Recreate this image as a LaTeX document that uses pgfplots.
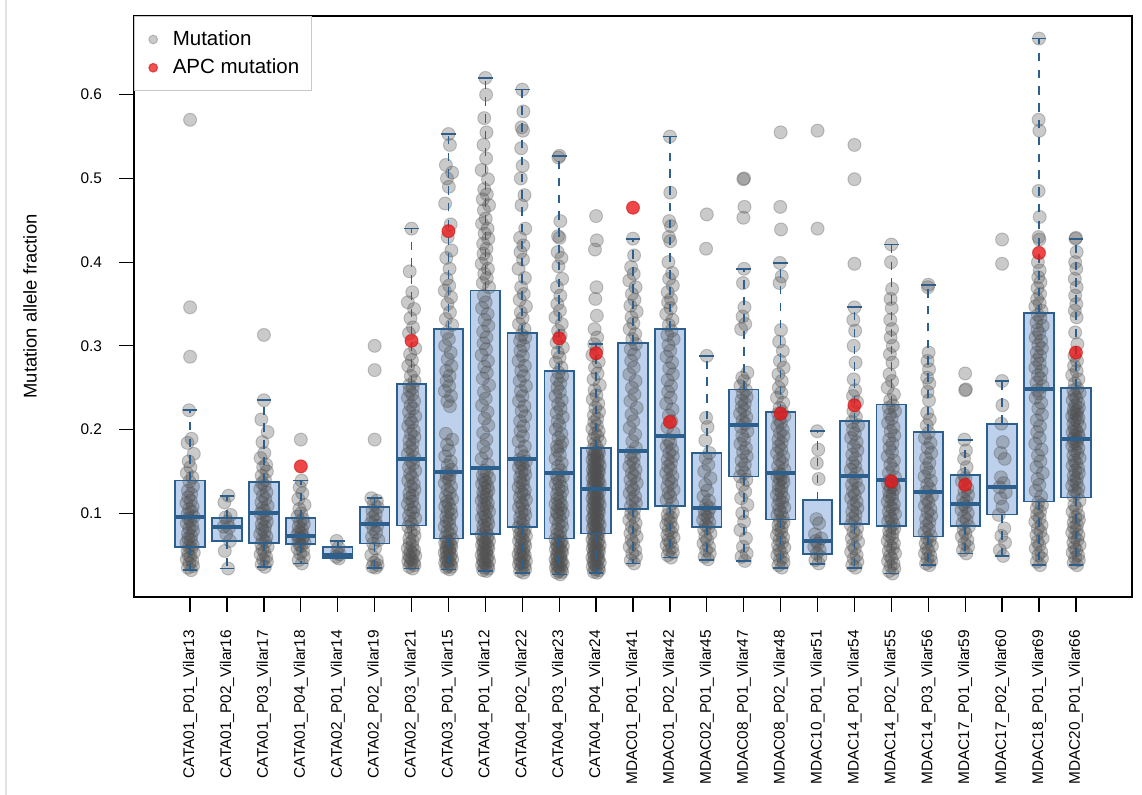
\documentclass[border=0pt]{standalone}
\usepackage{pgfplots}
\pgfplotsset{compat=1.18}
\usepgfplotslibrary{statistics}
\usepackage{fontspec}
\setmainfont{Liberation Sans}

\definecolor{boxfill}{RGB}{189,209,236}
\definecolor{boxedge}{RGB}{45,95,140}
\definecolor{ptgray}{RGB}{80,80,80}
\definecolor{apcred}{RGB}{235,25,25}
\definecolor{legframe}{RGB}{200,200,200}

% whiskers: dashed stem, solid staple
\pgfplotsset{
  boxplot/draw/lower whisker/.code={%
    \draw[/pgfplots/boxplot/every whisker/.try, dash pattern=on 4.2pt off 4.2pt]
      (boxplot box cs:\pgfplotsboxplotvalue{lower quartile},0.5)
      -- (boxplot box cs:\pgfplotsboxplotvalue{lower whisker},0.5);
    \draw[/pgfplots/boxplot/every whisker/.try]
      (boxplot whisker cs:\pgfplotsboxplotvalue{lower whisker},0)
      -- (boxplot whisker cs:\pgfplotsboxplotvalue{lower whisker},1);
  },
  boxplot/draw/upper whisker/.code={%
    \draw[/pgfplots/boxplot/every whisker/.try, dash pattern=on 4.2pt off 4.2pt]
      (boxplot box cs:\pgfplotsboxplotvalue{upper quartile},0.5)
      -- (boxplot box cs:\pgfplotsboxplotvalue{upper whisker},0.5);
    \draw[/pgfplots/boxplot/every whisker/.try]
      (boxplot whisker cs:\pgfplotsboxplotvalue{upper whisker},0)
      -- (boxplot whisker cs:\pgfplotsboxplotvalue{upper whisker},1);
  },
  boxbase/.style={draw=boxedge, color=boxedge, line width=0.85pt, solid,
    boxplot/draw direction=y,
    boxplot/box extend=0.8, boxplot/whisker extend=0.4,
    boxplot/every median/.style={line width=2pt}},
  boxfillpass/.style={boxbase, boxplot/every box/.style={fill=boxfill}},
  boxlinepass/.style={boxbase},
}

% one box: style, position, lower whisker, Q1, median, Q3, upper whisker
\newcommand\bx[7]{%
  \addplot[#1, forget plot, boxplot prepared={draw position=#2,
    lower whisker=#3, lower quartile=#4, median=#5,
    upper quartile=#6, upper whisker=#7}] coordinates {};}

\newcommand\allboxes[1]{%
  \bx{#1}{0}{0.032}{0.060}{0.096}{0.139}{0.223}
  \bx{#1}{1}{0.034}{0.067}{0.084}{0.094}{0.121}
  \bx{#1}{2}{0.036}{0.0645}{0.100}{0.137}{0.235}
  \bx{#1}{3}{0.040}{0.063}{0.0725}{0.094}{0.139}
  \bx{#1}{4}{0.046}{0.0465}{0.050}{0.0595}{0.067}
  \bx{#1}{5}{0.0347}{0.064}{0.0876}{0.1075}{0.118}
  \bx{#1}{6}{0.034}{0.0855}{0.165}{0.254}{0.440}
  \bx{#1}{7}{0.033}{0.070}{0.149}{0.320}{0.553}
  \bx{#1}{8}{0.031}{0.075}{0.154}{0.366}{0.620}
  \bx{#1}{9}{0.029}{0.084}{0.165}{0.315}{0.606}
  \bx{#1}{10}{0.027}{0.070}{0.148}{0.270}{0.527}
  \bx{#1}{11}{0.029}{0.076}{0.129}{0.178}{0.302}
  \bx{#1}{12}{0.040}{0.1054}{0.174}{0.3035}{0.4275}
  \bx{#1}{13}{0.047}{0.109}{0.192}{0.320}{0.550}
  \bx{#1}{14}{0.0445}{0.084}{0.106}{0.172}{0.288}
  \bx{#1}{15}{0.043}{0.144}{0.2055}{0.248}{0.3915}
  \bx{#1}{16}{0.035}{0.0926}{0.1484}{0.221}{0.399}
  \bx{#1}{17}{0.039}{0.0516}{0.0674}{0.1158}{0.198}
  \bx{#1}{18}{0.035}{0.087}{0.145}{0.210}{0.346}
  \bx{#1}{19}{0.028}{0.0845}{0.1396}{0.230}{0.421}
  \bx{#1}{20}{0.0378}{0.0724}{0.125}{0.197}{0.373}
  \bx{#1}{21}{0.052}{0.0845}{0.111}{0.1457}{0.1876}
  \bx{#1}{22}{0.049}{0.0987}{0.131}{0.207}{0.258}
  \bx{#1}{23}{0.038}{0.114}{0.248}{0.339}{0.667}
  \bx{#1}{24}{0.038}{0.119}{0.189}{0.250}{0.428}
}

\begin{document}
\begin{tikzpicture}
\path[use as bounding box] (-67pt,-99pt) rectangle (504pt,298.5pt);
\begin{axis}[
  at={(0,0)}, anchor=south west,
  scale only axis, width=499pt, height=290.5pt,
  xmin=-1.52, xmax=25.52, ymin=0, ymax=0.694,
  clip marker paths=true,
  axis line style={line width=0.7pt},
  tick align=outside, major tick length=7.5pt,
  tick style={black, line width=0.6pt},
  xtick pos=left, ytick pos=left,
  xtick={0,...,24},
  ytick={0.1,0.2,0.3,0.4,0.5,0.6},
  /pgf/number format/assume math mode=true,
  yticklabel style={/pgf/number format/.cd, fixed, fixed zerofill, precision=1},
  tick label style={font=\fontsize{7.7}{9}\selectfont},
  xticklabel style={rotate=90, anchor=east},
  xticklabel shift=5.5pt,
  yticklabel shift=5pt,
  xticklabels={CATA01\_P01\_Vilar13, CATA01\_P02\_Vilar16, CATA01\_P03\_Vilar17,
    CATA01\_P04\_Vilar18, CATA02\_P01\_Vilar14, CATA02\_P02\_Vilar19,
    CATA02\_P03\_Vilar21, CATA03\_P01\_Vilar15, CATA04\_P01\_Vilar12,
    CATA04\_P02\_Vilar22, CATA04\_P03\_Vilar23, CATA04\_P04\_Vilar24,
    MDAC01\_P01\_Vilar41, MDAC01\_P02\_Vilar42, MDAC02\_P01\_Vilar45,
    MDAC08\_P01\_Vilar47, MDAC08\_P02\_Vilar48, MDAC10\_P01\_Vilar51,
    MDAC14\_P01\_Vilar54, MDAC14\_P02\_Vilar55, MDAC14\_P03\_Vilar56,
    MDAC17\_P01\_Vilar59, MDAC17\_P02\_Vilar60, MDAC18\_P01\_Vilar69,
    MDAC20\_P01\_Vilar66},
  ylabel={Mutation allele fraction},
  every axis y label/.style={at={(axis description cs:-0.1042,0.5)}, rotate=90,
    anchor=center, font=\fontsize{9.2}{11}\selectfont},
  legend style={at={(0,1)}, anchor=north west, draw=legframe, line width=0.6pt,
    fill=white, font=\fontsize{10.25}{12}\selectfont,
    inner xsep=4pt, inner ysep=5pt, row sep=1.2pt, nodes={inner sep=2pt},
    /tikz/every odd column/.append style={column sep=2.5pt}},
  legend cell align=left,
]

\allboxes{boxfillpass}

% all mutations, jittered around their sample
\addplot[only marks, mark=*, mark size=3.25pt,
  mark options={fill=ptgray, draw=ptgray, fill opacity=0.3, draw opacity=0.3, line width=0.5pt},
  legend image code/.code={\path (0pt,0pt) (10pt,0pt);
    \filldraw[fill=ptgray, draw=ptgray, fill opacity=0.3, draw opacity=0.3, line width=0.5pt] (5pt,0pt) circle (2.2pt);}]
coordinates {
(0.03,0.032)(-0.06,0.035)(0.08,0.037)(-0.02,0.040)(0.06,0.043)(-0.09,0.045)(0.01,0.048)(-0.04,0.050)(0.10,0.053)(-0.07,0.055)(0.04,0.058)(-0.03,0.060)(0.07,0.062)(-0.10,0.065)(0.02,0.068)(-0.05,0.070)
(0.03,0.073)(-0.06,0.076)(0.08,0.079)(-0.02,0.082)(0.06,0.085)(-0.09,0.088)(0.01,0.091)(-0.04,0.094)(0.10,0.096)(-0.07,0.099)(0.04,0.102)(-0.03,0.105)(0.07,0.108)(-0.10,0.112)(0.02,0.115)(-0.05,0.119)
(0.03,0.123)(-0.06,0.127)(0.08,0.132)(-0.02,0.138)(0.06,0.143)(-0.09,0.148)(0.01,0.155)(-0.04,0.162)(0.10,0.171)(-0.07,0.184)(0.04,0.189)(-0.03,0.223)(0.00,0.287)(0.00,0.346)(0.00,0.570)
(1.03,0.034)(0.94,0.055)(1.08,0.067)(0.98,0.075)(1.06,0.083)(0.91,0.084)(1.01,0.090)(0.96,0.095)(1.10,0.098)(0.93,0.113)(1.04,0.121)
(2.03,0.036)(1.94,0.039)(2.08,0.042)(1.98,0.045)(2.06,0.048)(1.91,0.051)(2.01,0.054)(1.96,0.057)(2.10,0.060)(1.93,0.063)(2.04,0.066)(1.97,0.069)(2.07,0.072)(1.90,0.075)(2.02,0.078)(1.95,0.081)
(2.03,0.084)(1.94,0.087)(2.08,0.090)(1.98,0.093)(2.06,0.097)(1.91,0.100)(2.01,0.103)(1.96,0.106)(2.10,0.109)(1.93,0.113)(2.04,0.117)(1.97,0.121)(2.07,0.125)(1.90,0.129)(2.02,0.133)(1.95,0.136)
(2.03,0.140)(1.94,0.145)(2.08,0.150)(1.98,0.155)(2.06,0.158)(1.91,0.166)(2.01,0.172)(1.96,0.185)(2.10,0.197)(1.93,0.212)(2.00,0.235)(2.00,0.313)
(3.03,0.040)(2.94,0.044)(3.08,0.048)(2.98,0.052)(3.06,0.055)(2.91,0.058)(3.01,0.061)(2.96,0.063)(3.10,0.065)(2.93,0.067)(3.04,0.069)(2.97,0.071)(3.07,0.072)(2.90,0.074)(3.02,0.076)(2.95,0.078)
(3.03,0.081)(2.94,0.084)(3.08,0.087)(2.98,0.090)(3.06,0.093)(2.91,0.096)(3.01,0.100)(2.96,0.105)(3.10,0.110)(2.93,0.117)(3.04,0.124)(2.97,0.131)(3.02,0.139)(3.00,0.188)
(4.03,0.046)(3.96,0.048)(4.05,0.051)(3.98,0.053)(4.02,0.059)(3.97,0.067)
(5.03,0.035)(4.94,0.036)(5.08,0.038)(4.98,0.041)(5.06,0.044)(4.91,0.050)(5.01,0.058)(4.96,0.064)(5.10,0.068)(4.93,0.072)(5.04,0.077)(4.97,0.081)(5.07,0.085)(4.90,0.088)(5.02,0.091)(4.95,0.095)
(5.03,0.099)(4.94,0.103)(5.08,0.107)(4.98,0.111)(5.06,0.115)(4.91,0.118)(5.00,0.188)(5.00,0.271)(5.00,0.300)
(6.03,0.034)(5.94,0.036)(6.08,0.038)(5.98,0.040)(6.06,0.041)(5.91,0.043)(6.01,0.045)(5.96,0.047)(6.10,0.049)(5.93,0.050)(6.04,0.052)(5.97,0.054)(6.07,0.056)(5.90,0.058)(6.02,0.061)(5.95,0.064)
(6.03,0.067)(5.94,0.070)(6.08,0.073)(5.98,0.077)(6.06,0.080)(5.91,0.084)(6.01,0.087)(5.96,0.090)(6.10,0.094)(5.93,0.097)(6.04,0.101)(5.97,0.104)(6.07,0.107)(5.90,0.111)(6.02,0.114)(5.95,0.118)
(6.03,0.121)(5.94,0.124)(6.08,0.128)(5.98,0.132)(6.06,0.135)(5.91,0.139)(6.01,0.143)(5.96,0.147)(6.10,0.151)(5.93,0.155)(6.04,0.159)(5.97,0.163)(6.07,0.167)(5.90,0.171)(6.02,0.175)(5.95,0.179)
(6.03,0.183)(5.94,0.187)(6.08,0.191)(5.98,0.195)(6.06,0.199)(5.91,0.204)(6.01,0.208)(5.96,0.212)(6.10,0.216)(5.93,0.221)(6.04,0.225)(5.97,0.229)(6.07,0.234)(5.90,0.238)(6.02,0.242)(5.95,0.246)
(6.03,0.250)(5.94,0.253)(6.08,0.258)(5.98,0.264)(6.06,0.270)(5.91,0.276)(6.01,0.283)(5.96,0.290)(6.10,0.297)(5.93,0.315)(6.04,0.322)(5.97,0.333)(6.07,0.344)(5.90,0.352)(6.02,0.364)(5.95,0.389)
(6.00,0.440)
(7.03,0.033)(6.94,0.035)(7.08,0.036)(6.98,0.037)(7.06,0.039)(6.91,0.041)(7.01,0.042)(6.96,0.043)(7.10,0.045)(6.93,0.047)(7.04,0.048)(6.97,0.049)(7.07,0.051)(6.90,0.053)(7.02,0.054)(6.95,0.055)
(7.03,0.057)(6.94,0.059)(7.08,0.060)(6.98,0.061)(7.06,0.063)(6.91,0.065)(7.01,0.066)(6.96,0.067)(7.10,0.069)(6.93,0.072)(7.04,0.075)(6.97,0.078)(7.07,0.081)(6.90,0.084)(7.02,0.087)(6.95,0.090)
(7.03,0.093)(6.94,0.096)(7.08,0.099)(6.98,0.102)(7.06,0.105)(6.91,0.108)(7.01,0.111)(6.96,0.114)(7.10,0.117)(6.93,0.120)(7.04,0.124)(6.97,0.128)(7.07,0.132)(6.90,0.136)(7.02,0.140)(6.95,0.143)
(7.03,0.146)(6.94,0.148)(7.08,0.152)(6.98,0.157)(7.06,0.162)(6.91,0.168)(7.01,0.175)(6.96,0.182)(7.10,0.188)(6.93,0.195)(7.04,0.228)(6.97,0.234)(7.07,0.240)(6.90,0.246)(7.02,0.252)(6.95,0.258)
(7.03,0.264)(6.94,0.270)(7.08,0.276)(6.98,0.284)(7.06,0.292)(6.91,0.300)(7.01,0.308)(6.96,0.316)(7.10,0.325)(6.93,0.332)(7.04,0.340)(6.97,0.350)(7.07,0.358)(6.90,0.366)(7.02,0.372)(6.95,0.380)
(7.03,0.392)(6.94,0.405)(7.08,0.414)(6.98,0.430)(7.06,0.445)(6.91,0.470)(7.01,0.490)(6.96,0.500)(7.10,0.507)(6.93,0.516)(7.04,0.540)(7.00,0.553)
(8.03,0.031)(7.94,0.032)(8.08,0.034)(7.98,0.035)(8.06,0.037)(7.91,0.038)(8.01,0.040)(7.96,0.041)(8.10,0.043)(7.93,0.044)(8.04,0.046)(7.97,0.047)(8.07,0.049)(7.90,0.050)(8.02,0.052)(7.95,0.053)
(8.03,0.055)(7.94,0.056)(8.08,0.058)(7.98,0.059)(8.06,0.061)(7.91,0.062)(8.01,0.064)(7.96,0.065)(8.10,0.067)(7.93,0.068)(8.04,0.070)(7.97,0.071)(8.07,0.073)(7.90,0.074)(8.02,0.077)(7.95,0.080)
(8.03,0.082)(7.94,0.085)(8.08,0.087)(7.98,0.090)(8.06,0.092)(7.91,0.095)(8.01,0.097)(7.96,0.100)(8.10,0.102)(7.93,0.105)(8.04,0.107)(7.97,0.110)(8.07,0.112)(7.90,0.115)(8.02,0.117)(7.95,0.120)
(8.03,0.122)(7.94,0.125)(8.08,0.127)(7.98,0.130)(8.06,0.132)(7.91,0.135)(8.01,0.137)(7.96,0.140)(8.10,0.142)(7.93,0.145)(8.04,0.148)(7.97,0.151)(8.07,0.158)(7.90,0.165)(8.02,0.172)(7.95,0.180)
(8.03,0.188)(7.94,0.196)(8.08,0.205)(7.98,0.213)(8.06,0.221)(7.91,0.229)(8.01,0.237)(7.96,0.245)(8.10,0.253)(7.93,0.261)(8.04,0.268)(7.97,0.275)(8.07,0.282)(7.90,0.289)(8.02,0.296)(7.95,0.303)
(8.03,0.310)(7.94,0.317)(8.08,0.324)(7.98,0.331)(8.06,0.338)(7.91,0.345)(8.01,0.352)(7.96,0.360)(8.10,0.370)(7.93,0.375)(8.04,0.381)(7.97,0.386)(8.07,0.392)(7.90,0.398)(8.02,0.404)(7.95,0.410)
(8.03,0.416)(7.94,0.422)(8.08,0.428)(7.98,0.434)(8.06,0.440)(7.91,0.446)(8.01,0.452)(7.96,0.462)(8.10,0.468)(7.93,0.475)(8.04,0.481)(7.97,0.487)(8.07,0.499)(7.90,0.510)(8.02,0.524)(7.95,0.540)
(8.03,0.555)(7.97,0.572)(8.02,0.600)(8.00,0.620)
(9.03,0.029)(8.94,0.031)(9.08,0.033)(8.98,0.035)(9.06,0.037)(8.91,0.039)(9.01,0.040)(8.96,0.041)(9.10,0.043)(8.93,0.045)(9.04,0.047)(8.97,0.049)(9.07,0.050)(8.90,0.051)(9.02,0.053)(8.95,0.055)
(9.03,0.057)(8.94,0.059)(9.08,0.061)(8.98,0.063)(9.06,0.065)(8.91,0.067)(9.01,0.069)(8.96,0.071)(9.10,0.073)(8.93,0.075)(9.04,0.077)(8.97,0.079)(9.07,0.081)(8.90,0.083)(9.02,0.086)(8.95,0.089)
(9.03,0.092)(8.94,0.095)(9.08,0.098)(8.98,0.101)(9.06,0.104)(8.91,0.107)(9.01,0.110)(8.96,0.113)(9.10,0.116)(8.93,0.119)(9.04,0.122)(8.97,0.125)(9.07,0.128)(8.90,0.131)(9.02,0.134)(8.95,0.137)
(9.03,0.140)(8.94,0.143)(9.08,0.146)(8.98,0.149)(9.06,0.152)(8.91,0.155)(9.01,0.158)(8.96,0.160)(9.10,0.162)(8.93,0.164)(9.04,0.168)(8.97,0.174)(9.07,0.180)(8.90,0.186)(9.02,0.192)(8.95,0.198)
(9.03,0.204)(8.94,0.210)(9.08,0.216)(8.98,0.222)(9.06,0.228)(8.91,0.234)(9.01,0.240)(8.96,0.246)(9.10,0.252)(8.93,0.258)(9.04,0.264)(8.97,0.270)(9.07,0.276)(8.90,0.282)(9.02,0.288)(8.95,0.294)
(9.03,0.300)(8.94,0.306)(9.08,0.310)(8.98,0.313)(9.06,0.320)(8.91,0.326)(9.01,0.333)(8.96,0.340)(9.10,0.347)(8.93,0.355)(9.04,0.362)(8.97,0.370)(9.07,0.381)(8.90,0.392)(9.02,0.403)(8.95,0.412)
(9.03,0.420)(8.94,0.429)(9.08,0.440)(8.98,0.468)(9.06,0.480)(8.96,0.500)(9.01,0.515)(8.97,0.536)(9.02,0.557)(8.98,0.561)(9.03,0.580)(9.00,0.606)
(10.03,0.027)(9.94,0.029)(10.08,0.030)(9.98,0.031)(10.06,0.033)(9.91,0.035)(10.01,0.036)(9.96,0.037)(10.10,0.039)(9.93,0.040)(10.04,0.041)(9.97,0.042)(10.07,0.043)(9.90,0.045)(10.02,0.047)(9.95,0.048)
(10.03,0.049)(9.94,0.051)(10.08,0.053)(9.98,0.054)(10.06,0.055)(9.91,0.057)(10.01,0.059)(9.96,0.060)(10.10,0.061)(9.93,0.063)(10.04,0.065)(9.97,0.066)(10.07,0.067)(9.90,0.069)(10.02,0.072)(9.95,0.075)
(10.03,0.078)(9.94,0.081)(10.08,0.084)(9.98,0.087)(10.06,0.090)(9.91,0.093)(10.01,0.096)(9.96,0.099)(10.10,0.100)(9.93,0.102)(10.04,0.105)(9.97,0.108)(10.07,0.110)(9.90,0.111)(10.02,0.114)(9.95,0.117)
(10.03,0.120)(9.94,0.123)(10.08,0.126)(9.98,0.129)(10.06,0.132)(9.91,0.135)(10.01,0.138)(9.96,0.141)(10.10,0.144)(9.93,0.146)(10.04,0.151)(9.97,0.156)(10.07,0.160)(9.90,0.165)(10.02,0.170)(9.95,0.175)
(10.03,0.180)(9.94,0.180)(10.08,0.185)(9.98,0.190)(10.06,0.195)(9.91,0.200)(10.01,0.205)(9.96,0.210)(10.10,0.215)(9.93,0.220)(10.04,0.225)(9.97,0.230)(10.07,0.235)(9.90,0.240)(10.02,0.245)(9.95,0.250)
(10.03,0.255)(9.94,0.260)(10.08,0.264)(9.98,0.268)(10.06,0.274)(9.91,0.280)(10.01,0.286)(9.96,0.292)(10.10,0.298)(9.93,0.304)(10.04,0.312)(9.97,0.318)(10.07,0.326)(9.90,0.334)(10.02,0.342)(9.95,0.350)
(10.03,0.360)(9.94,0.370)(10.08,0.380)(9.98,0.395)(10.06,0.405)(9.96,0.412)(10.01,0.429)(9.97,0.431)(10.03,0.449)(9.98,0.525)(10.01,0.527)
(11.03,0.029)(10.94,0.030)(11.08,0.032)(10.98,0.033)(11.06,0.035)(10.91,0.036)(11.01,0.038)(10.96,0.039)(11.10,0.041)(10.93,0.042)(11.04,0.044)(10.97,0.045)(11.07,0.046)(10.90,0.047)(11.02,0.048)(10.95,0.050)
(11.03,0.051)(10.94,0.053)(11.08,0.054)(10.98,0.056)(11.06,0.057)(10.91,0.058)(11.01,0.059)(10.96,0.060)(11.10,0.062)(10.93,0.063)(11.04,0.065)(10.97,0.066)(11.07,0.068)(10.90,0.069)(11.02,0.071)(10.95,0.072)
(11.03,0.074)(10.94,0.075)(11.08,0.077)(10.98,0.079)(11.06,0.080)(10.91,0.082)(11.01,0.083)(10.96,0.085)(11.10,0.086)(10.93,0.088)(11.04,0.089)(10.97,0.091)(11.07,0.092)(10.90,0.094)(11.02,0.095)(10.95,0.097)
(11.03,0.098)(10.94,0.100)(11.08,0.101)(10.98,0.103)(11.06,0.104)(10.91,0.106)(11.01,0.107)(10.96,0.109)(11.10,0.110)(10.93,0.112)(11.04,0.113)(10.97,0.115)(11.07,0.116)(10.90,0.118)(11.02,0.119)(10.95,0.121)
(11.03,0.122)(10.94,0.124)(11.08,0.125)(10.98,0.127)(11.06,0.130)(10.91,0.131)(11.01,0.133)(10.96,0.134)(11.10,0.135)(10.93,0.136)(11.04,0.137)(10.97,0.139)(11.07,0.140)(10.90,0.142)(11.02,0.143)(10.95,0.145)
(11.03,0.146)(10.94,0.148)(11.08,0.149)(10.98,0.150)(11.06,0.151)(10.91,0.152)(11.01,0.154)(10.96,0.155)(11.10,0.157)(10.93,0.158)(11.04,0.160)(10.97,0.161)(11.07,0.163)(10.90,0.164)(11.02,0.166)(10.95,0.167)
(11.03,0.169)(10.94,0.170)(11.08,0.172)(10.98,0.173)(11.06,0.175)(10.91,0.176)(11.01,0.180)(10.96,0.183)(11.10,0.186)(10.93,0.189)(11.04,0.192)(10.97,0.195)(11.07,0.198)(10.90,0.201)(11.02,0.205)(10.95,0.209)
(11.03,0.213)(10.94,0.217)(11.08,0.221)(10.98,0.226)(11.06,0.231)(10.91,0.236)(11.01,0.241)(10.96,0.247)(11.10,0.253)(10.93,0.260)(11.04,0.267)(10.97,0.274)(11.07,0.281)(10.90,0.289)(11.02,0.296)(10.95,0.302)
(11.03,0.310)(10.96,0.320)(11.02,0.336)(10.98,0.356)(11.01,0.370)(10.97,0.415)(11.02,0.426)(11.00,0.455)
(12.03,0.040)(11.94,0.044)(12.08,0.048)(11.98,0.052)(12.06,0.056)(11.91,0.060)(12.01,0.064)(11.96,0.068)(12.10,0.072)(11.93,0.076)(12.04,0.080)(11.97,0.084)(12.07,0.088)(11.90,0.092)(12.02,0.096)(11.95,0.100)
(12.03,0.104)(11.94,0.108)(12.08,0.112)(11.98,0.116)(12.06,0.120)(11.91,0.124)(12.01,0.128)(11.96,0.132)(12.10,0.136)(11.93,0.140)(12.04,0.144)(11.97,0.148)(12.07,0.152)(11.90,0.156)(12.02,0.160)(11.95,0.164)
(12.03,0.168)(11.94,0.172)(12.08,0.178)(11.98,0.186)(12.06,0.194)(11.91,0.202)(12.01,0.210)(11.96,0.218)(12.10,0.226)(11.93,0.234)(12.04,0.242)(11.97,0.250)(12.07,0.258)(11.90,0.266)(12.02,0.274)(11.95,0.282)
(12.03,0.290)(11.94,0.296)(12.08,0.302)(11.98,0.308)(12.06,0.314)(11.91,0.320)(12.01,0.327)(11.96,0.334)(12.10,0.341)(11.93,0.348)(12.04,0.355)(11.97,0.362)(12.07,0.370)(11.90,0.378)(12.02,0.386)(11.95,0.394)
(12.03,0.408)(12.00,0.428)
(13.03,0.047)(12.94,0.050)(13.08,0.053)(12.98,0.056)(13.06,0.059)(12.91,0.062)(13.01,0.065)(12.96,0.068)(13.10,0.071)(12.93,0.074)(13.04,0.077)(12.97,0.080)(13.07,0.083)(12.90,0.086)(13.02,0.089)(12.95,0.092)
(13.03,0.095)(12.94,0.098)(13.08,0.101)(12.98,0.105)(13.06,0.112)(12.91,0.116)(13.01,0.120)(12.96,0.124)(13.10,0.128)(12.93,0.132)(13.04,0.136)(12.97,0.140)(13.07,0.144)(12.90,0.148)(13.02,0.152)(12.95,0.156)
(13.03,0.160)(12.94,0.164)(13.08,0.168)(12.98,0.172)(13.06,0.176)(12.91,0.180)(13.01,0.184)(12.96,0.188)(13.10,0.196)(12.93,0.203)(13.04,0.210)(12.97,0.217)(13.07,0.224)(12.90,0.231)(13.02,0.238)(12.95,0.245)
(13.03,0.252)(12.94,0.259)(13.08,0.266)(12.98,0.273)(13.06,0.280)(12.91,0.287)(13.01,0.294)(12.96,0.301)(13.10,0.308)(12.93,0.313)(13.04,0.318)(12.97,0.325)(13.07,0.331)(12.90,0.338)(13.02,0.345)(12.95,0.352)
(13.03,0.356)(12.94,0.364)(13.08,0.372)(12.98,0.380)(13.06,0.387)(12.96,0.400)(13.01,0.425)(12.97,0.430)(13.03,0.443)(12.98,0.449)(13.01,0.483)(13.00,0.550)
(14.03,0.045)(13.94,0.048)(14.08,0.052)(13.98,0.056)(14.06,0.060)(13.91,0.064)(14.01,0.068)(13.96,0.072)(14.10,0.076)(13.93,0.080)(14.04,0.083)(13.97,0.086)(14.07,0.089)(13.90,0.092)(14.02,0.095)(13.95,0.098)
(14.03,0.101)(13.94,0.104)(14.08,0.106)(13.98,0.110)(14.06,0.115)(13.91,0.120)(14.01,0.127)(13.96,0.134)(14.10,0.142)(13.93,0.150)(14.04,0.158)(13.97,0.166)(14.07,0.172)(13.96,0.187)(14.02,0.203)(13.98,0.214)
(14.00,0.288)(13.98,0.416)(14.00,0.457)
(15.03,0.043)(14.94,0.048)(15.08,0.052)(14.98,0.060)(15.06,0.070)(14.91,0.080)(15.01,0.090)(14.96,0.100)(15.10,0.110)(14.93,0.118)(15.04,0.126)(14.97,0.134)(15.07,0.140)(14.90,0.144)(15.02,0.148)(14.95,0.153)
(15.03,0.158)(14.94,0.163)(15.08,0.168)(14.98,0.173)(15.06,0.178)(14.91,0.183)(15.01,0.188)(14.96,0.193)(15.10,0.198)(14.93,0.203)(15.04,0.207)(14.97,0.211)(15.07,0.215)(14.90,0.219)(15.02,0.223)(14.95,0.227)
(15.03,0.231)(14.94,0.235)(15.08,0.239)(14.98,0.243)(15.06,0.247)(14.91,0.252)(15.01,0.258)(14.96,0.262)(15.10,0.268)(14.93,0.320)(15.04,0.326)(14.97,0.335)(15.02,0.346)(14.98,0.375)(15.01,0.392)(14.99,0.453)
(15.02,0.466)(14.99,0.499)(15.01,0.500)(15.00,0.700)
(16.03,0.035)(15.94,0.038)(16.08,0.041)(15.98,0.044)(16.06,0.047)(15.91,0.050)(16.01,0.053)(15.96,0.056)(16.10,0.059)(15.93,0.062)(16.04,0.065)(15.97,0.068)(16.07,0.071)(15.90,0.074)(16.02,0.077)(15.95,0.080)
(16.03,0.083)(15.94,0.086)(16.08,0.089)(15.98,0.091)(16.06,0.095)(15.91,0.098)(16.01,0.101)(15.96,0.104)(16.10,0.107)(15.93,0.110)(16.04,0.113)(15.97,0.116)(16.07,0.119)(15.90,0.122)(16.02,0.125)(15.95,0.128)
(16.03,0.131)(15.94,0.134)(16.08,0.137)(15.98,0.140)(16.06,0.142)(15.91,0.144)(16.01,0.146)(15.96,0.148)(16.10,0.152)(15.93,0.156)(16.04,0.160)(15.97,0.164)(16.07,0.168)(15.90,0.172)(16.02,0.176)(15.95,0.180)
(16.03,0.184)(15.94,0.188)(16.08,0.192)(15.98,0.196)(16.06,0.200)(15.91,0.204)(16.01,0.208)(15.96,0.212)(16.10,0.216)(15.93,0.219)(16.04,0.221)(15.97,0.226)(16.07,0.232)(15.90,0.238)(16.02,0.244)(15.95,0.250)
(16.03,0.258)(15.94,0.266)(16.08,0.274)(15.98,0.282)(16.06,0.294)(15.96,0.305)(16.01,0.319)(15.97,0.375)(16.03,0.383)(15.98,0.399)(16.01,0.439)(15.99,0.466)(16.00,0.555)
(17.03,0.040)(16.94,0.044)(17.08,0.048)(16.98,0.052)(17.06,0.056)(16.91,0.060)(17.01,0.064)(16.96,0.067)(17.10,0.070)(16.93,0.075)(17.04,0.088)(16.97,0.093)(17.03,0.141)(16.98,0.160)(17.02,0.176)(16.99,0.198)
(17.00,0.440)(17.00,0.557)
(18.03,0.035)(17.94,0.038)(18.08,0.042)(17.98,0.046)(18.06,0.050)(17.91,0.054)(18.01,0.058)(17.96,0.062)(18.10,0.066)(17.93,0.070)(18.04,0.074)(17.97,0.078)(18.07,0.082)(17.90,0.086)(18.02,0.090)(17.95,0.094)
(18.03,0.098)(17.94,0.102)(18.08,0.106)(17.98,0.110)(18.06,0.114)(17.91,0.118)(18.01,0.122)(17.96,0.126)(18.10,0.130)(17.93,0.134)(18.04,0.138)(17.97,0.142)(18.07,0.148)(17.90,0.152)(18.02,0.156)(17.95,0.160)
(18.03,0.165)(17.94,0.170)(18.08,0.175)(17.98,0.180)(18.06,0.185)(17.91,0.190)(18.01,0.195)(17.96,0.200)(18.10,0.205)(17.93,0.209)(18.04,0.215)(17.97,0.222)(18.07,0.233)(17.96,0.240)(18.02,0.247)(17.98,0.260)
(18.03,0.280)(17.98,0.300)(18.02,0.318)(17.97,0.331)(18.00,0.346)(18.00,0.398)(18.00,0.499)(18.00,0.540)
(19.03,0.028)(18.94,0.031)(19.08,0.034)(18.98,0.037)(19.06,0.040)(18.91,0.043)(19.01,0.046)(18.96,0.049)(19.10,0.052)(18.93,0.055)(19.04,0.058)(18.97,0.061)(19.07,0.064)(18.90,0.067)(19.02,0.070)(18.95,0.073)
(19.03,0.076)(18.94,0.079)(19.08,0.082)(18.98,0.084)(19.06,0.087)(18.91,0.090)(19.01,0.093)(18.96,0.096)(19.10,0.099)(18.93,0.102)(19.04,0.105)(18.97,0.108)(19.07,0.111)(18.90,0.114)(19.02,0.117)(18.95,0.120)
(19.03,0.123)(18.94,0.126)(19.08,0.129)(18.98,0.131)(19.06,0.133)(18.91,0.135)(19.01,0.137)(18.96,0.139)(19.10,0.143)(18.93,0.148)(19.04,0.153)(18.97,0.158)(19.07,0.163)(18.90,0.168)(19.02,0.173)(18.95,0.178)
(19.03,0.183)(18.94,0.188)(19.08,0.193)(18.98,0.198)(19.06,0.203)(18.91,0.208)(19.01,0.213)(18.96,0.218)(19.10,0.222)(18.93,0.226)(19.04,0.229)(18.97,0.235)(19.07,0.242)(18.90,0.250)(19.02,0.258)(18.95,0.266)
(19.03,0.280)(18.96,0.290)(19.04,0.300)(18.98,0.310)(19.02,0.320)(18.97,0.331)(19.01,0.345)(18.98,0.356)(19.02,0.368)(18.99,0.400)(19.00,0.421)
(20.03,0.038)(19.94,0.040)(20.08,0.043)(19.98,0.046)(20.06,0.049)(19.91,0.052)(20.01,0.055)(19.96,0.058)(20.10,0.061)(19.93,0.064)(20.04,0.067)(19.97,0.070)(20.07,0.073)(19.90,0.077)(20.02,0.081)(19.95,0.085)
(20.03,0.089)(19.94,0.093)(20.08,0.097)(19.98,0.101)(20.06,0.105)(19.91,0.109)(20.01,0.113)(19.96,0.117)(20.10,0.121)(19.93,0.125)(20.04,0.129)(19.97,0.134)(20.07,0.139)(19.90,0.144)(20.02,0.149)(19.95,0.154)
(20.03,0.160)(19.94,0.166)(20.08,0.172)(19.98,0.178)(20.06,0.184)(19.91,0.190)(20.01,0.196)(19.96,0.205)(20.04,0.212)(19.97,0.220)(20.02,0.235)(19.98,0.245)(20.03,0.255)(19.97,0.262)(20.02,0.272)(19.98,0.282)
(20.01,0.292)(19.99,0.370)(20.00,0.373)
(21.03,0.052)(20.94,0.056)(21.08,0.060)(20.98,0.064)(21.06,0.068)(20.91,0.072)(21.01,0.076)(20.96,0.080)(21.10,0.084)(20.93,0.088)(21.04,0.092)(20.97,0.096)(21.07,0.100)(20.90,0.104)(21.02,0.108)(20.95,0.111)
(21.03,0.114)(20.94,0.118)(21.08,0.122)(20.98,0.126)(21.06,0.130)(20.91,0.138)(21.01,0.142)(20.96,0.146)(21.04,0.155)(20.97,0.165)(21.02,0.175)(20.98,0.188)(21.00,0.247)(21.02,0.248)(21.00,0.267)
(22.03,0.049)(21.94,0.056)(22.08,0.065)(21.98,0.073)(22.06,0.082)(21.91,0.098)(22.01,0.108)(21.96,0.118)(22.10,0.125)(21.93,0.131)(22.04,0.136)(21.97,0.143)(22.07,0.165)(21.96,0.172)(22.02,0.185)(21.98,0.207)
(22.01,0.229)(22.00,0.258)(22.00,0.398)(22.00,0.427)
(23.03,0.038)(22.94,0.042)(23.08,0.046)(22.98,0.050)(23.06,0.054)(22.91,0.058)(23.01,0.062)(22.96,0.066)(23.10,0.070)(22.93,0.074)(23.04,0.078)(22.97,0.082)(23.07,0.086)(22.90,0.090)(23.02,0.094)(22.95,0.098)
(23.03,0.102)(22.94,0.106)(23.08,0.110)(22.98,0.113)(23.06,0.120)(22.91,0.127)(23.01,0.134)(22.96,0.141)(23.10,0.148)(22.93,0.155)(23.04,0.162)(22.97,0.169)(23.07,0.176)(22.90,0.183)(23.02,0.190)(22.95,0.197)
(23.03,0.204)(22.94,0.211)(23.08,0.218)(22.98,0.225)(23.06,0.232)(22.91,0.238)(23.01,0.243)(22.96,0.247)(23.10,0.252)(22.93,0.256)(23.04,0.261)(22.97,0.265)(23.07,0.270)(22.90,0.274)(23.02,0.279)(22.95,0.283)
(23.03,0.288)(22.94,0.292)(23.08,0.297)(22.98,0.301)(23.06,0.306)(22.91,0.310)(23.01,0.315)(22.96,0.319)(23.10,0.324)(22.93,0.328)(23.04,0.333)(22.97,0.337)(23.07,0.342)(22.90,0.347)(23.02,0.351)(22.95,0.356)
(23.03,0.362)(22.96,0.369)(23.04,0.376)(22.98,0.382)(23.02,0.390)(22.97,0.400)(23.01,0.427)(22.99,0.430)(23.02,0.454)(22.99,0.485)(23.01,0.557)(22.99,0.570)(23.00,0.667)
(24.03,0.038)(23.94,0.041)(24.08,0.044)(23.98,0.047)(24.06,0.050)(23.91,0.053)(24.01,0.056)(23.96,0.059)(24.10,0.062)(23.93,0.065)(24.04,0.068)(23.97,0.071)(24.07,0.074)(23.90,0.077)(24.02,0.080)(23.95,0.083)
(24.03,0.086)(23.94,0.089)(24.08,0.092)(23.98,0.095)(24.06,0.098)(23.91,0.102)(24.01,0.106)(23.96,0.110)(24.10,0.115)(23.93,0.121)(24.04,0.124)(23.97,0.127)(24.07,0.130)(23.90,0.133)(24.02,0.136)(23.95,0.139)
(24.03,0.142)(23.94,0.145)(24.08,0.148)(23.98,0.151)(24.06,0.154)(23.91,0.157)(24.01,0.160)(23.96,0.163)(24.10,0.166)(23.93,0.169)(24.04,0.172)(23.97,0.175)(24.07,0.178)(23.90,0.181)(24.02,0.183)(23.95,0.185)
(24.03,0.187)(23.94,0.189)(24.08,0.191)(23.98,0.193)(24.06,0.195)(23.91,0.197)(24.01,0.199)(23.96,0.201)(24.10,0.204)(23.93,0.207)(24.04,0.210)(23.97,0.212)(24.07,0.214)(23.90,0.216)(24.02,0.218)(23.95,0.220)
(24.03,0.222)(23.94,0.224)(24.08,0.226)(23.98,0.229)(24.06,0.232)(23.91,0.235)(24.01,0.238)(23.96,0.241)(24.10,0.244)(23.93,0.247)(24.04,0.249)(23.97,0.255)(24.07,0.260)(23.90,0.265)(24.02,0.270)(23.95,0.276)
(24.03,0.282)(23.96,0.288)(24.04,0.302)(23.98,0.316)(24.02,0.334)(23.97,0.342)(24.01,0.350)(23.98,0.360)(24.02,0.370)(23.97,0.380)(24.01,0.392)(23.98,0.400)(24.02,0.412)(23.99,0.428)(24.00,0.429)
};
\addlegendentry{Mutation}

\allboxes{boxlinepass}

% mutations in APC
\addplot[only marks, mark=*, mark size=3.25pt,
  mark options={fill=apcred, draw=apcred!85!black, fill opacity=0.8, draw opacity=0.6, line width=0.5pt},
  legend image code/.code={\path (0pt,0pt) (10pt,0pt);
    \filldraw[fill=apcred, draw=apcred!85!black, fill opacity=0.75, draw opacity=0.6, line width=0.5pt] (5pt,0pt) circle (2.2pt);}]
coordinates {
(3,0.156) (6,0.306) (7,0.437) (10,0.309) (11,0.291) (12,0.465) (13,0.209)
(16,0.219) (18,0.229) (19,0.138) (21,0.134) (23,0.411) (24,0.292)
};
\addlegendentry{APC mutation}
\end{axis}
\draw[gray!22, line width=0.6pt] (-64pt,-99pt) -- (-64pt,298.5pt);
\end{tikzpicture}
\end{document}
